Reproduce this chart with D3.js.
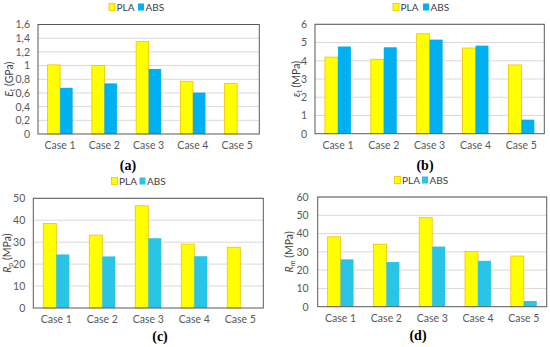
<!DOCTYPE html>
<html><head><meta charset="utf-8">
<script src="https://cdn.jsdelivr.net/npm/d3@7"></script>
<style>body{margin:0;background:#fff}svg{display:block}</style>
</head><body>
<svg id="c" width="550" height="347"></svg>
<script>
const categories = ["Case 1","Case 2","Case 3","Case 4","Case 5"];
const seriesNames = ["PLA","ABS"];
const plaEt = [1.01, 1.00, 1.35, 0.77, 0.74];
const absEt = [0.675, 0.74, 0.95, 0.605, null];
const plaEps = [4.2, 4.08, 5.48, 4.7, 3.77];
const absEps = [4.78, 4.74, 5.16, 4.83, 0.77];
const plaRp = [38.5, 33.2, 46.6, 29.1, 27.7];
const absRp = [24.4, 23.5, 31.8, 23.6, null];
const plaRm = [38.2, 34.2, 48.7, 30.2, 27.7];
const absRm = [25.9, 24.4, 32.9, 25.1, 3.1];
const ticksA = [0,0.2,0.4,0.6,0.8,1,1.2,1.4,1.6];
const ticksB = [0,1,2,3,4,5,6];
const ticksC = [0,10,20,30,40,50];
const ticksD = [0,10,20,30,40,50,60];
const captions = ["(a)","(b)","(c)","(d)"];

const svg = d3.select("#c");
const FONT = "Lato, 'Open Sans', sans-serif";

function panel(o){
  const g = svg.append("g");
  const x = d3.scaleBand().domain(categories).range([o.left,o.right]).padding(0);
  const inner = d3.scaleBand().domain(seriesNames)
    .range([x.bandwidth()*0.217, x.bandwidth()*0.783]).padding(0);
  const y = d3.scaleLinear().domain([0,o.max]).range([o.bottom,o.top]);
  g.selectAll("line.grid").data(o.ticks.filter(t=>t>0)).join("line")
    .attr("x1",o.left).attr("x2",o.right)
    .attr("y1",d=>y(d)).attr("y2",d=>y(d))
    .attr("stroke","#d9d9d9").attr("stroke-width",1);
  const data = [];
  categories.forEach((c,i)=>{
    if(o.pla[i]!=null) data.push({c,s:"PLA",v:o.pla[i]});
    if(o.abs[i]!=null) data.push({c,s:"ABS",v:o.abs[i]});
  });
  g.selectAll("rect.bar").data(data).join("rect")
    .attr("x",d=>x(d.c)+inner(d.s))
    .attr("width",inner.bandwidth())
    .attr("y",d=>y(d.v))
    .attr("height",d=>y(0)-y(d.v))
    .attr("fill",d=>d.s==="PLA"?"#ffff00":o.absColor)
    .attr("stroke",d=>d.s==="PLA"?"#f5c000":"none")
    .attr("stroke-width",0.8);
  g.append("rect").attr("x",o.left).attr("y",o.top)
    .attr("width",o.right-o.left).attr("height",o.bottom-o.top)
    .attr("fill","none").attr("stroke","#595959").attr("stroke-width",1);
  const ya = d3.axisLeft(y).tickValues(o.ticks).tickSize(0).tickPadding(o.tickPad)
    .tickFormat(d=>String(d).replace(".",","));
  const yg = g.append("g").attr("transform",`translate(${o.left},0)`).call(ya);
  yg.select(".domain").remove();
  yg.selectAll("text").attr("font-family",FONT).attr("font-size",10.5).attr("fill","#595959");
  const xa = d3.axisBottom(x).tickSize(0).tickPadding(8);
  const xg = g.append("g").attr("transform",`translate(0,${o.bottom})`).call(xa);
  xg.select(".domain").remove();
  xg.selectAll("text").attr("font-family",FONT).attr("font-size",10.5).attr("fill","#595959");
  const t = g.append("text").attr("transform",`translate(${o.titleX},${(o.top+o.bottom)/2}) rotate(-90)`)
    .attr("text-anchor","middle").attr("dy","0.35em")
    .attr("font-family",FONT).attr("font-size",10.5).attr("fill","#404040");
  t.append("tspan").attr("font-style","italic").text(o.sym);
  t.append("tspan").attr("font-size",7).attr("dy",2).text(o.sub);
  t.append("tspan").attr("dy",-2).text(" (" + o.unit + ")");
  const lg = g.append("g");
  seriesNames.forEach((s,i)=>{
    const lx = o.legX[i];
    lg.append("rect").attr("x",lx).attr("y",o.legY-3.5).attr("width",6).attr("height",7)
      .attr("fill",s==="PLA"?"#ffff00":o.absColor)
      .attr("stroke",s==="PLA"?"#f5c000":"none").attr("stroke-width",0.8);
    lg.append("text").attr("x",lx+7.5).attr("y",o.legY).attr("dy","0.35em")
      .attr("font-family",FONT).attr("font-size",10).attr("fill","#404040").text(s);
  });
  g.append("text").attr("x",o.capX).attr("y",o.capY).attr("dy","0.35em")
    .attr("text-anchor","middle").attr("font-family","'Liberation Serif', serif")
    .attr("font-weight","bold").attr("font-size",14).attr("fill","#000").text(o.cap);
}

panel({left:38,right:259.3,top:24.5,bottom:134,max:1.6,ticks:ticksA,pla:plaEt,abs:absEt,
  absColor:"#00b0f0",tickPad:8,titleX:9,sym:"E",sub:"t",unit:"GPa",
  legX:[109,138],legY:7,capX:128,capY:165.5,cap:captions[0]});
panel({left:315,right:544.3,top:24.3,bottom:133.7,max:6,ticks:ticksB,pla:plaEps,abs:absEps,
  absColor:"#00b0f0",tickPad:8,titleX:296,sym:"ε",sub:"t",unit:"MPa",
  legX:[393,423],legY:7,capX:425,capY:165,cap:captions[1]});
panel({left:33.3,right:263.3,top:198.3,bottom:308,max:50,ticks:ticksC,pla:plaRp,abs:absRp,
  absColor:"#29c4e6",tickPad:8,titleX:7,sym:"R",sub:"p",unit:"MPa",
  legX:[111.5,139.5],legY:181,capX:160,capY:336.5,cap:captions[2]});
panel({left:317.7,right:546.7,top:197,bottom:306.7,max:60,ticks:ticksD,pla:plaRm,abs:absRm,
  absColor:"#29c4e6",tickPad:9,titleX:289,sym:"R",sub:"m",unit:"MPa",
  legX:[394.5,422],legY:180,capX:418,capY:335.5,cap:captions[3]});
</script>
</body></html>
